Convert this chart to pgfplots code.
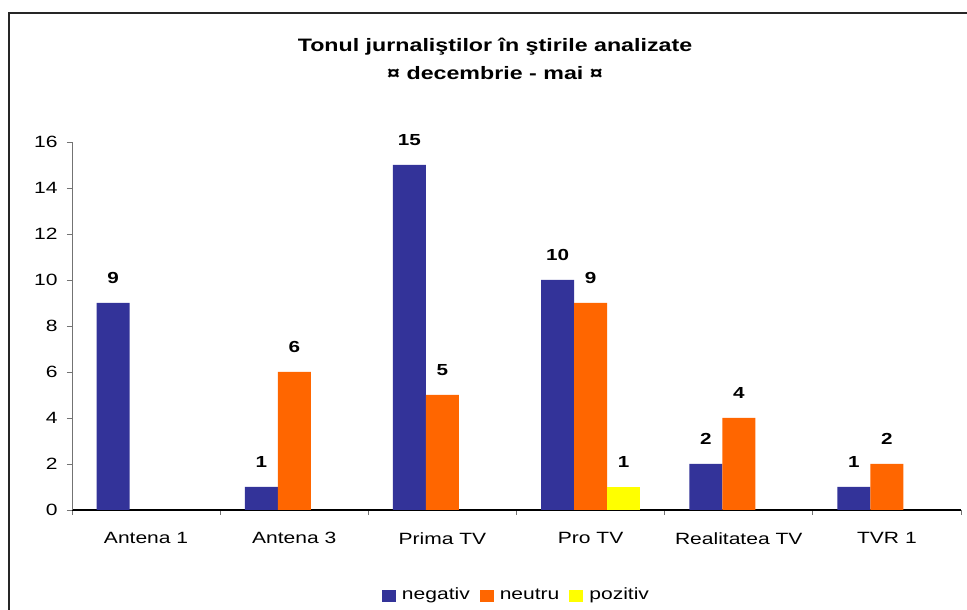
\documentclass[border=0pt]{standalone}
\usepackage{fontspec}
\setmainfont{Liberation Sans}[FakeStretch=1.29]
\usepackage{pgfplots}
\pgfplotsset{compat=1.18}
\definecolor{cneg}{HTML}{333399}
\definecolor{cneu}{HTML}{FF6600}
\definecolor{cpoz}{HTML}{FFFF00}
\pgfplotsset{
  mybar/.style={ybar, bar width=33pt, draw=none,
    legend image code/.code={\fill[##1] (0pt,-6pt) rectangle (14pt,6pt);}},
}
\begin{document}
\begin{tikzpicture}
\useasboundingbox (0,0) rectangle (967pt,610pt);
\fill[white] (0,0) rectangle (967pt,610pt);
\draw[line width=1.6pt, black!85] (9pt,-2pt) -- (9pt,597pt) -- (969pt,597pt);
\node[font=\fontsize{18pt}{28pt}\selectfont\bfseries, align=center] at (495pt,551pt)
  {Tonul jurnaliştilor în ştirile analizate\\¤ decembrie - mai ¤};
\begin{axis}[
  at={(72pt,100pt)}, anchor=south west,
  scale only axis, width=889pt, height=368pt,
  xmin=-0.5, xmax=5.5, ymin=0, ymax=16,
  ytick={0,2,...,16},
  xtick={0,...,5},
  xticklabels={Antena 1,Antena 3,Prima TV,Pro TV,Realitatea TV,TVR 1},
  minor xtick={-0.5,0.5,...,5.5},
  axis lines*=left,
  tick align=outside,
  major tick length=5pt, minor tick length=5pt,
  x axis line style={black, line width=1.1pt},
  y axis line style={black!55, line width=0.9pt},
  major x tick style={draw=none},
  minor x tick style={black!55, line width=0.9pt},
  major y tick style={black!55, line width=0.9pt},
  /pgf/number format/assume math mode=true,
  tick label style={font=\fontsize{16.3pt}{19pt}\selectfont},
  xticklabel style={yshift=-14pt},
  yticklabel style={xshift=-6pt},
  nodes near coords,
  every node near coord/.append style={font=\fontsize{16pt}{19pt}\selectfont\bfseries, anchor=south, inner ysep=0pt, yshift=19pt},
  legend style={at={(0.5,-0.234)}, anchor=center, draw=none, fill=none,
    legend columns=-1, font=\fontsize{16.3pt}{19pt}\selectfont,
    nodes={text height=11pt, text depth=3.5pt},
    /tikz/every odd column/.append style={column sep=4pt},
    /tikz/every even column/.append style={column sep=8pt}},
]
\addplot[mybar, bar shift=-33pt, fill=cneg, every node near coord/.append style={xshift=-33pt}]
  coordinates {(0,9) (1,1) (2,15) (3,10) (4,2) (5,1)};
\addplot[mybar, bar shift=0pt, fill=cneu]
  coordinates {(1,6) (2,5) (3,9) (4,4) (5,2)};
\addplot[mybar, bar shift=33pt, fill=cpoz, every node near coord/.append style={xshift=33pt}]
  coordinates {(3,1)};
\legend{negativ,neutru,pozitiv}
\end{axis}
\end{tikzpicture}
\end{document}
